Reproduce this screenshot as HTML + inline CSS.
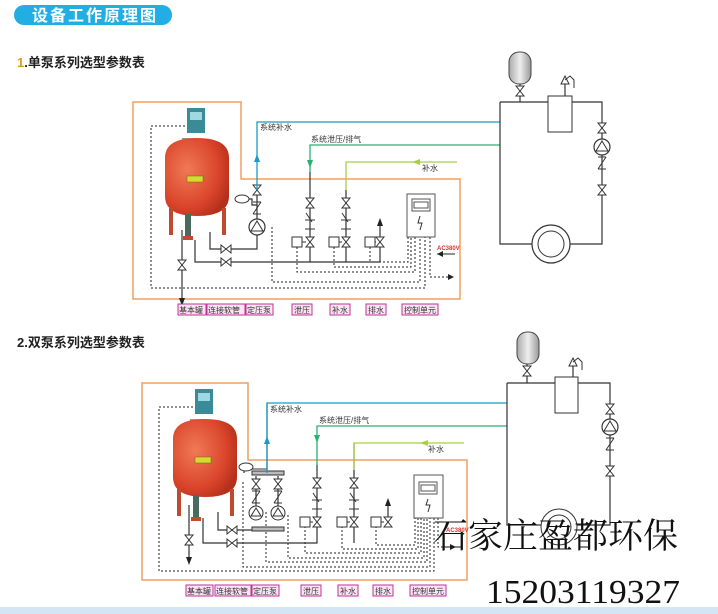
<!DOCTYPE html>
<html><head><meta charset="utf-8"><style>
html,body{margin:0;padding:0;background:#fff}
svg{display:block}
text{font-family:"Liberation Sans","Noto Sans CJK SC",sans-serif}
</style></head><body>
<svg width="718" height="614" viewBox="0 0 718 614" xmlns="http://www.w3.org/2000/svg">
<defs>
<path id="vv" d="M-4,-5 L4,-5 L-4,5 L4,5 Z" fill="#fff" stroke="#333" stroke-width="1"/>
<path id="hv" d="M-5,-4 L-5,4 L5,-4 L5,4 Z" fill="#fff" stroke="#333" stroke-width="1"/>
<path id="ck" d="M-4,-7 L4,-7 M4,-7 L-4,5 M-4,5 L4,5" fill="none" stroke="#333" stroke-width="1"/>
<g id="pump"><circle r="8" fill="#fff" stroke="#333" stroke-width="1.2"/><path d="M-6,4 L0,-6 L6,4 Z" fill="none" stroke="#333"/></g>
<g id="sq"><rect x="-5" y="-5" width="10" height="10" fill="#fff" stroke="#333"/></g>
<radialGradient id="red" cx="0.35" cy="0.4" r="0.7"><stop offset="0" stop-color="#f07a55"/><stop offset="0.7" stop-color="#d9442a"/><stop offset="1" stop-color="#b5301c"/></radialGradient>
<linearGradient id="gr" x1="0" x2="1"><stop offset="0" stop-color="#aaa"/><stop offset="0.5" stop-color="#eee"/><stop offset="1" stop-color="#999"/></linearGradient>
<g id="tank">
 <rect x="0" y="0" width="18" height="25" fill="#3a8a98"/><rect x="3" y="4" width="12" height="8" fill="#9fd8e0"/>
 <rect x="-5" y="30" width="16" height="12" fill="#999"/>
 <path d="M-22,50 Q-22,30 10,30 Q42,30 42,50 L42,88 Q42,108 10,108 Q-22,108 -22,88 Z" fill="url(#red)"/>
 <rect x="0" y="68" width="16" height="6" fill="#d8d830" stroke="#6a6a10" stroke-width="0.5"/>
 <rect x="-18" y="100" width="4" height="27" fill="#c04a30"/><rect x="35" y="100" width="4" height="27" fill="#c04a30"/>
 <rect x="-2" y="106" width="6" height="26" fill="#4a6a60"/><rect x="-4" y="128" width="10" height="4" fill="#c04a30"/>
</g>
<g id="rloop">
 <rect x="0" y="0" width="22" height="32" rx="10" fill="url(#gr)" stroke="#444"/>
</g>
</defs>

<rect x="14" y="5" width="158" height="20" rx="10" fill="#22aee2"/>
<text x="32" y="21" font-size="16" font-weight="bold" fill="#fff" letter-spacing="2">设备工作原理图</text>
<text x="17" y="67" font-size="13" font-weight="bold" fill="#222"><tspan fill="#d4a020">1</tspan>.单泵系列选型参数表</text>
<text x="17" y="347" font-size="13" font-weight="bold" fill="#222">2.双泵系列选型参数表</text>

<path d="M133,102 H241 V179 H460 V299 H133 Z" fill="none" stroke="#f0a060" stroke-width="1.5"/>
<g fill="none" stroke="#222" stroke-width="1" stroke-dasharray="2,2">
 <path d="M185,126 H151 V288 H425 V237"/>
 <path d="M272,227 V282 H420 V237"/>
 <path d="M297,247 V272 H415 V237"/>
 <path d="M334,247 V267 H411 V237"/>
 <path d="M370,247 V262 H408 V237"/>
 <path d="M430,237 V277 H450"/>
</g>
<path d="M448,274 L454,277 L448,280Z" fill="#222"/>
<use href="#tank" x="187" y="108"/>
<g fill="none" stroke="#333" stroke-width="1.2">
 <path d="M182,230 V300"/><path d="M195,240 V262 H380 V242"/><path d="M210,232 V249 H257 V235"/>
 <path d="M257,219 V190"/><path d="M310,172 V262"/><path d="M346,190 V262"/><path d="M380,242 V225"/>
 <path d="M242,199 H252 V205 H257"/>
</g>
<path d="M179,298 L182,306 L185,298Z" fill="#222"/>
<path d="M377,226 L380,218 L383,226Z" fill="#222"/>
<use href="#vv" x="182" y="265"/>
<use href="#hv" x="226" y="249"/><use href="#hv" x="226" y="262"/>
<use href="#pump" x="257" y="227"/>
<use href="#vv" x="257" y="190"/><use href="#ck" x="257" y="209"/>
<ellipse cx="242" cy="199" rx="7" ry="4" fill="#fff" stroke="#333"/>
<use href="#vv" x="310" y="203"/><use href="#vv" x="310" y="242"/><use href="#vv" x="346" y="203"/><use href="#vv" x="346" y="242"/><use href="#vv" x="380" y="242"/>
<g stroke="#333"><path d="M305,220 H315 M306,213 L312,222 M305,229 H315"/><path d="M341,220 H351 M342,213 L348,222 M341,229 H351"/><path d="M302,242 H306 M339,242 H342 M373,242 H376"/></g>
<use href="#sq" x="297" y="242"/><use href="#sq" x="334" y="242"/><use href="#sq" x="370" y="242"/>
<rect x="407" y="194" width="28" height="43" fill="#fff" stroke="#555"/><rect x="412" y="199" width="18" height="12" fill="none" stroke="#555"/><rect x="414" y="202" width="14" height="6" fill="none" stroke="#555"/>
<path d="M420,216 L418,223 L422,223 L420,230" fill="none" stroke="#333"/>
<text x="437" y="250" font-size="6" font-weight="bold" fill="#e03030">AC380V</text>
<path d="M437,254 H455" stroke="#222"/><path d="M437,254 L443,251 L443,257Z" fill="#222"/>
<path d="M257,190 V122 H500" fill="none" stroke="#1a9ac8" stroke-width="1.3"/>
<path d="M254,162 L257,154 L260,162Z" fill="#1a9ac8"/>
<text x="260" y="130" font-size="8" fill="#333">系统补水</text>
<path d="M310,172 V145 H500" fill="none" stroke="#2ab070" stroke-width="1.3"/>
<path d="M307,160 L310,168 L313,160Z" fill="#2ab070"/>
<text x="311" y="142" font-size="8" fill="#333">系统泄压/排气</text>
<path d="M346,190 V162 H457" fill="none" stroke="#a8d040" stroke-width="1.3"/>
<path d="M412,162 L420,159 L420,165Z" fill="#a8d040"/>
<text x="422" y="171" font-size="8" fill="#333">补水</text>
<g fill="none" stroke="#333" stroke-width="1.2"><path d="M500,102 H548 M572,102 H602 V244 H570 M532,244 H500 V102"/><path d="M520,83 V102"/><path d="M565,96 V84"/></g>
<use href="#rloop" x="509" y="52"/>
<use href="#vv" x="520" y="91"/>
<rect x="548" y="96" width="24" height="36" fill="#fff" stroke="#333"/>
<path d="M561,84 L565,76 L569,84Z M565,80 L570,76 L574,80 V88" fill="none" stroke="#333"/>
<use href="#vv" x="602" y="128"/><use href="#pump" x="602" y="147"/><use href="#ck" x="602" y="164"/><use href="#vv" x="602" y="190"/>
<circle cx="551" cy="244" r="19" fill="#fff" stroke="#333" stroke-width="1.2"/><circle cx="551" cy="244" r="13" fill="none" stroke="#333"/>
<g fill="#fbe4f4" stroke="#c0309a" stroke-width="1">
 <rect x="178" y="304" width="28" height="11"/><rect x="207" y="304" width="38" height="11"/><rect x="246" y="304" width="27" height="11"/>
 <rect x="292" y="304" width="20" height="11"/><rect x="330" y="304" width="20" height="11"/><rect x="366" y="304" width="20" height="11"/><rect x="402" y="304" width="36" height="11"/>
</g>
<g font-size="8" fill="#333"><text x="179" y="313">基本罐</text><text x="208" y="313">连接软管</text><text x="247" y="313">定压泵</text><text x="294" y="313">泄压</text><text x="332" y="313">补水</text><text x="368" y="313">排水</text><text x="404" y="313">控制单元</text></g>

<path d="M142,383 H248 V460 H467 V580 H142 Z" fill="none" stroke="#f0a060" stroke-width="1.5"/>
<g fill="none" stroke="#222" stroke-width="1" stroke-dasharray="2,2">
 <path d="M193,407 H159 V571 H434 V518"/>
 <path d="M243,482 V567 H430 V518"/>
 <path d="M266,512 V562 H427 V518"/>
 <path d="M288,515 V558 H424 V518"/>
 <path d="M305,522 V553 H421 V518"/>
 <path d="M342,522 V549 H418 V518"/>
 <path d="M376,522 V545 H415 V518"/>
 <path d="M438,518 V547 H452"/>
</g>
<path d="M450,544 L456,547 L450,550Z" fill="#222"/>
<use href="#tank" x="195" y="389"/>
<g fill="none" stroke="#333" stroke-width="1.2">
 <path d="M189,505 V560"/><path d="M203,518 V543 H317 V465"/><path d="M218,512 V530 H252"/>
 <path d="M267,473 V403"/><path d="M244,467 V473"/><path d="M256,476 V513 M278,476 V513"/>
 <path d="M354,443 V543 M388,520 V505"/>
</g>
<rect x="252" y="471" width="32" height="4" fill="#bbb" stroke="#333"/>
<rect x="252" y="527" width="32" height="4" fill="#bbb" stroke="#333"/>
<path d="M244,469 H267" stroke="#333"/>
<ellipse cx="246" cy="467" rx="7" ry="4" fill="#fff" stroke="#333"/>
<path d="M186,557 L189,565 L192,557Z" fill="#222"/>
<path d="M385,506 L388,498 L391,506Z" fill="#222"/>
<use href="#vv" x="189" y="540"/>
<use href="#hv" x="232" y="530"/><use href="#hv" x="232" y="543"/>
<use href="#vv" x="256" y="484"/><use href="#vv" x="278" y="484"/>
<use href="#ck" x="256" y="498"/><use href="#ck" x="278" y="498"/>
<g transform="translate(256,513)"><circle r="7" fill="#fff" stroke="#333"/><path d="M-5,3 L0,-5 L5,3Z" fill="none" stroke="#333"/></g>
<g transform="translate(278,513)"><circle r="7" fill="#fff" stroke="#333"/><path d="M-5,3 L0,-5 L5,3Z" fill="none" stroke="#333"/></g>
<use href="#vv" x="317" y="483"/><use href="#vv" x="317" y="522"/><use href="#vv" x="354" y="483"/><use href="#vv" x="354" y="522"/><use href="#vv" x="388" y="522"/>
<g stroke="#333"><path d="M312,500 H322 M313,493 L319,502 M312,509 H322"/><path d="M349,500 H359 M350,493 L356,502 M349,509 H359"/><path d="M309,522 H313 M347,522 H350 M381,522 H384"/></g>
<use href="#sq" x="305" y="522"/><use href="#sq" x="342" y="522"/><use href="#sq" x="376" y="522"/>
<rect x="414" y="475" width="29" height="43" fill="#fff" stroke="#555"/><rect x="419" y="482" width="18" height="12" fill="none" stroke="#555"/><rect x="421" y="485" width="14" height="6" fill="none" stroke="#555"/>
<path d="M428,499 L426,505 L430,505 L428,512" fill="none" stroke="#333"/>
<text x="446" y="532" font-size="6" font-weight="bold" fill="#e03030">AC380V</text>
<path d="M267,473 V403 H507" fill="none" stroke="#1a9ac8" stroke-width="1.3"/>
<path d="M264,444 L267,436 L270,444Z" fill="#1a9ac8"/>
<text x="270" y="412" font-size="8" fill="#333">系统补水</text>
<path d="M317,465 V426 H507" fill="none" stroke="#2ab070" stroke-width="1.3"/>
<path d="M314,435 L317,443 L320,435Z" fill="#2ab070"/>
<text x="319" y="423" font-size="8" fill="#333">系统泄压/排气</text>
<path d="M354,470 V443 H464" fill="none" stroke="#a8d040" stroke-width="1.3"/>
<path d="M420,443 L428,440 L428,446Z" fill="#a8d040"/>
<text x="428" y="452" font-size="8" fill="#333">补水</text>
<g fill="none" stroke="#333" stroke-width="1.2"><path d="M507,383 H555 M578,383 H610 V525 H507 V383"/><path d="M527,363 V383"/><path d="M573,377 V366"/></g>
<use href="#rloop" x="517" y="332"/>
<use href="#vv" x="527" y="371"/>
<rect x="555" y="377" width="23" height="36" fill="#fff" stroke="#333"/>
<path d="M569,366 L573,358 L577,366Z M573,362 L578,358 L582,362 V370" fill="none" stroke="#333"/>
<use href="#vv" x="610" y="409"/><use href="#pump" x="610" y="427"/><use href="#ck" x="610" y="445"/><use href="#vv" x="610" y="471"/>
<circle cx="559" cy="527" r="18" fill="#fff" stroke="#333"/><circle cx="559" cy="527" r="12" fill="none" stroke="#333"/>
<g fill="#fbe4f4" stroke="#c0309a" stroke-width="1">
 <rect x="186" y="585" width="27" height="11"/><rect x="215" y="585" width="36" height="11"/><rect x="252" y="585" width="27" height="11"/>
 <rect x="301" y="585" width="20" height="11"/><rect x="338" y="585" width="20" height="11"/><rect x="373" y="585" width="20" height="11"/><rect x="410" y="585" width="36" height="11"/>
</g>
<g font-size="8" fill="#333"><text x="187" y="594">基本罐</text><text x="216" y="594">连接软管</text><text x="253" y="594">定压泵</text><text x="303" y="594">泄压</text><text x="340" y="594">补水</text><text x="375" y="594">排水</text><text x="412" y="594">控制单元</text></g>

<text x="433" y="548" font-size="35" fill="#111" style="font-family:'Liberation Serif','Noto Serif CJK SC',serif">石家庄盈都环保</text>
<text x="486" y="603" font-size="34" fill="#111" style="font-family:'Liberation Serif',serif" textLength="194" lengthAdjust="spacingAndGlyphs">15203119327</text>
<rect x="0" y="607" width="718" height="7" fill="#d4e6f6"/>
</svg>
</body></html>
